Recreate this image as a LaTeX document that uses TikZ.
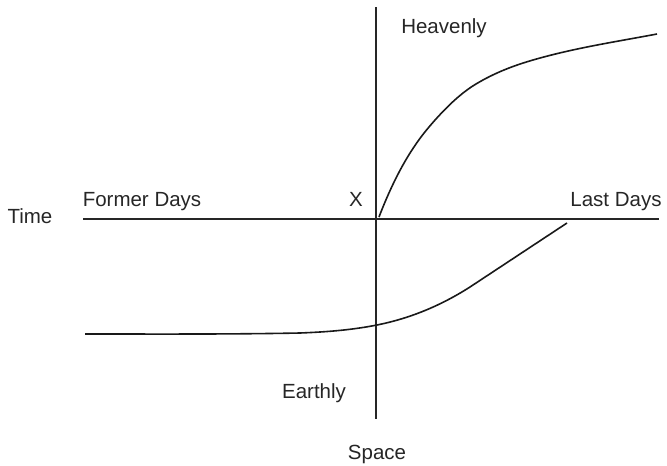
\documentclass[tikz,border=0pt]{standalone}
\usepackage{fontspec}
\setmainfont{Liberation Sans}
\begin{document}
\begin{tikzpicture}[x=1pt,y=-1pt,
  lbl/.style={anchor=base,inner sep=0pt,font=\fontsize{20.5}{24}\selectfont,text=black!85},
  axis/.style={line width=1.2pt,black!85},
  curve/.style={line width=1.6pt,black!90,line join=round}]
\useasboundingbox (0,0) rectangle (667,466);
\coordinate (vtop) at (376,7);
\coordinate (vbot) at (376,419);
\coordinate (hl) at (83,219);
\coordinate (hr) at (659,219);
\draw[axis] (vtop) -- (vbot);
\draw[axis] (hl) -- (hr);
% upper curve (Heavenly)
\coordinate (ua) at (379,217);
\coordinate (ub) at (429,127);
\coordinate (uc) at (476,84);
\coordinate (ud) at (533,60);
\coordinate (ue) at (657,34);
\draw[curve] (ua) .. controls (395.7,173.6) and (412.3,146.7) .. (ub)
  .. controls (444.7,108.5) and (460.3,93.4) .. (uc)
  .. controls (495,72.6) and (514,65.5) .. (ud)
  .. controls (574.3,48) and (615.7,41.8) .. (ue);
% lower curve (Earthly)
\coordinate (lf) at (85,334);
\coordinate (lg) at (300,333);
\coordinate (lh) at (377,325);
\coordinate (lj) at (470,287);
\coordinate (lk) at (567,223);
\draw[curve] (lf) .. controls (156.7,334) and (228.3,334.4) .. (lg)
  .. controls (325.7,332) and (351.3,330.1) .. (lh)
  .. controls (408,318.8) and (439,306.8) .. (lj)
  -- (lk);
\node[lbl] (heav) at (444,33) {Heavenly};
\node[lbl] (former) at (142,206) {Former Days};
\node[lbl] (x) at (356,206) {X};
\node[lbl] (last) at (616,206) {Last Days};
\node[lbl] (time) at (30,223) {Time};
\node[lbl] (earth) at (314,398) {Earthly};
\node[lbl] (space) at (377,459) {Space};
\end{tikzpicture}
\end{document}
